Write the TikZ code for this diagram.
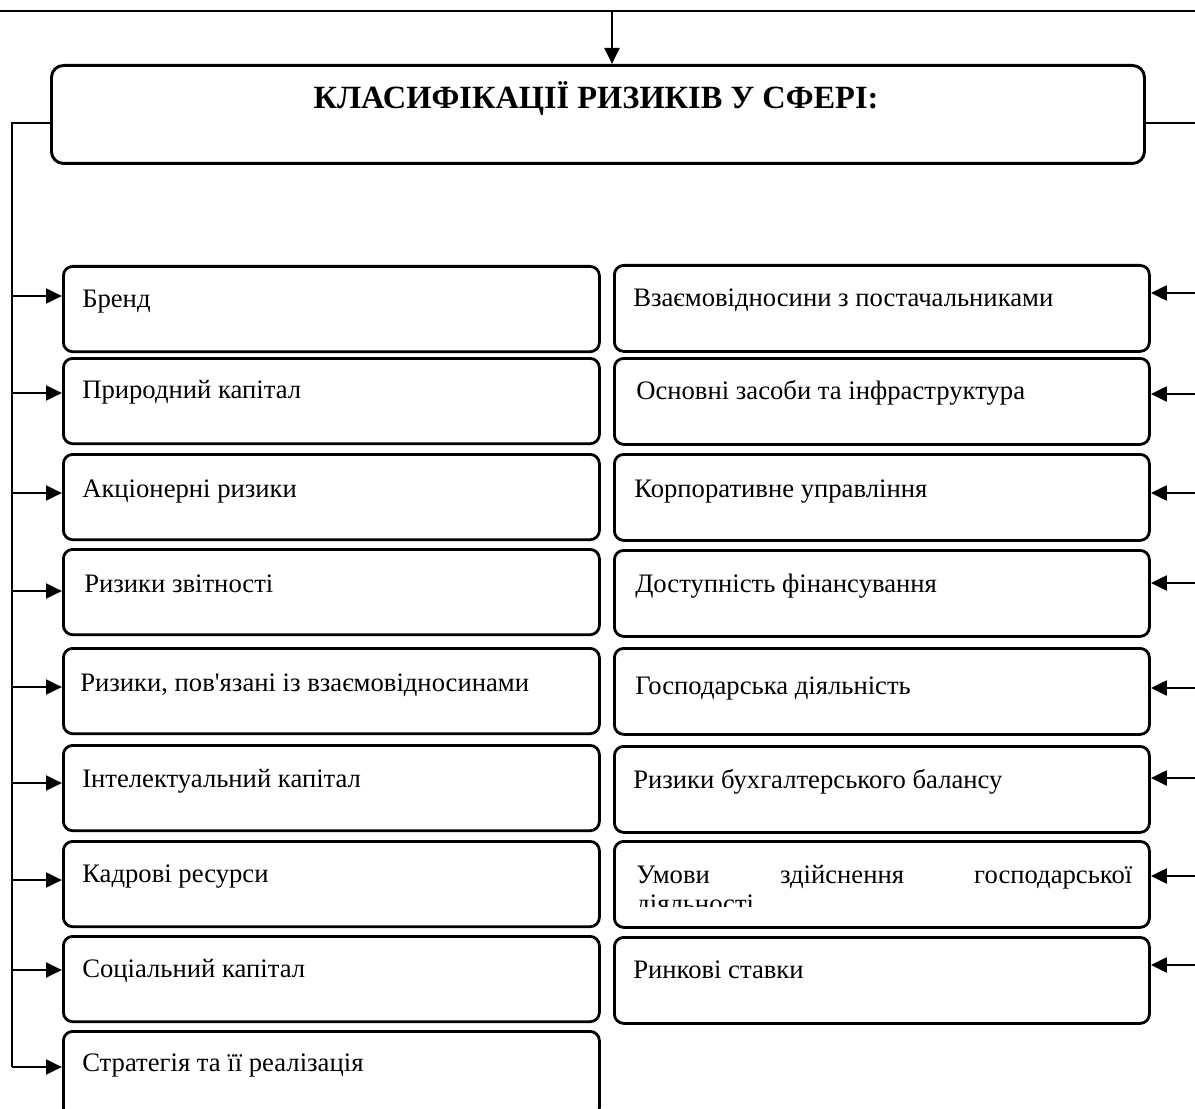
\documentclass[tikz,border=0pt]{standalone}
\usepackage{fontspec}
\setmainfont{Liberation Serif}
\usetikzlibrary{arrows.meta}
\pgfdeclarelayer{nodelayer}
\pgfdeclarelayer{edgelayer}
\pgfsetlayers{edgelayer,nodelayer,main}
\newcommand{\straightapos}{{\XeTeXglyph\XeTeXglyphindex "quotesingle"\relax}}
\tikzstyle{head box}=[draw=black, line width=2.2pt, shape=rectangle, rounded corners=9pt, anchor=north west, inner sep=0pt, minimum width=819.75pt, minimum height=73.5pt]
\tikzstyle{left box}=[draw=black, line width=2.1pt, shape=rectangle, rounded corners=7pt, anchor=north west, inner sep=0pt, minimum width=402pt, minimum height=64pt]
\tikzstyle{right box}=[draw=black, line width=2.1pt, shape=rectangle, rounded corners=7pt, anchor=north west, inner sep=0pt, minimum width=401.25pt, minimum height=64.5pt]
\tikzstyle{head text}=[font=\fontsize{24.3}{28}\selectfont\bfseries, anchor=base, inner sep=0pt]
\tikzstyle{item text}=[font=\fontsize{20}{23}\selectfont, anchor=base west, inner sep=0pt]
\tikzstyle{line edge}=[draw=black, line width=2.2pt]
\tikzstyle{arrow edge}=[draw=black, line width=2.2pt, -{Triangle[length=12pt, width=11pt]}]

\begin{document}
\begin{tikzpicture}[x=0.75pt, y=-0.75pt]
	\useasboundingbox (0, 0) rectangle (1195, 1109);
	\begin{pgfonlayer}{nodelayer}
		\node [style=head box] (0) at (50, 64) {};
		\node [style=head text] (1) at (596, 109) {КЛАСИФІКАЦІЇ РИЗИКІВ У СФЕРІ:};
		% left column
		\node [style=left box] (2) at (62, 265) {};
		\node [style=left box] (3) at (62, 357) {};
		\node [style=left box] (4) at (62, 453) {};
		\node [style=left box] (5) at (62, 548) {};
		\node [style=left box] (6) at (62, 647) {};
		\node [style=left box] (7) at (62, 744) {};
		\node [style=left box] (8) at (62, 840) {};
		\node [style=left box] (9) at (62, 935) {};
		\node [style=left box] (10) at (62, 1030) {};
		\node [style=item text] (11) at (82, 307) {Бренд};
		\node [style=item text] (12) at (82, 398) {Природний капітал};
		\node [style=item text] (13) at (82, 497) {Акціонерні ризики};
		\node [style=item text] (14) at (84, 592) {Ризики звітності};
		\node [style=item text] (15) at (80, 691) {Ризики, пов\straightapos язані із взаємовідносинами};
		\node [style=item text] (16) at (82, 787) {Інтелектуальний капітал};
		\node [style=item text] (17) at (82, 882) {Кадрові ресурси};
		\node [style=item text] (18) at (82, 977) {Соціальний капітал};
		\node [style=item text] (19) at (82, 1071) {Стратегія та її реалізація};
		% right column
		\node [style=right box] (20) at (613, 264) {};
		\node [style=right box] (21) at (613, 357) {};
		\node [style=right box] (22) at (613, 453) {};
		\node [style=right box] (23) at (613, 549) {};
		\node [style=right box] (24) at (613, 647) {};
		\node [style=right box] (25) at (613, 745) {};
		\node [style=right box] (26) at (613, 840) {};
		\node [style=right box] (27) at (613, 936) {};
		\node [style=item text] (28) at (633, 306) {Взаємовідносини з постачальниками};
		\node [style=item text] (29) at (636, 399) {Основні засоби та інфраструктура};
		\node [style=item text] (30) at (634, 497) {Корпоративне управління};
		\node [style=item text] (31) at (635, 592) {Доступність фінансування};
		\node [style=item text] (32) at (635, 694) {Господарська діяльність};
		\node [style=item text] (33) at (633, 788) {Ризики бухгалтерського балансу};
		\node [style=item text, text width=372pt, align=left] (34) at (636, 883) {Умови\hfill здійснення\hfill господарської};
		\begin{scope}
			\clip (613, 840) rectangle (1148, 906);
			\node [style=item text] (35) at (636, 912) {діяльності};
		\end{scope}
		\node [style=item text] (36) at (633, 978) {Ринкові ставки};
	\end{pgfonlayer}
	\begin{pgfonlayer}{edgelayer}
		\coordinate (37) at (0, 11);
		\coordinate (38) at (1195, 11);
		\coordinate (39) at (612, 11);
		\coordinate (40) at (12, 123);
		\coordinate (41) at (1197, 123);
		\coordinate (42) at (12, 296);
		\coordinate (43) at (12, 393);
		\coordinate (44) at (12, 493);
		\coordinate (45) at (12, 591);
		\coordinate (46) at (12, 687);
		\coordinate (47) at (12, 783);
		\coordinate (48) at (12, 880);
		\coordinate (49) at (12, 970);
		\coordinate (50) at (12, 1067);
		\coordinate (51) at (1197, 293);
		\coordinate (52) at (1197, 394);
		\coordinate (53) at (1197, 493);
		\coordinate (54) at (1197, 583);
		\coordinate (55) at (1197, 688);
		\coordinate (56) at (1197, 778);
		\coordinate (57) at (1197, 876);
		\coordinate (58) at (1197, 965);
		\draw [style=line edge] (37) to (38);
		\draw [style=arrow edge] (39) to (39 |- 0.north);
		\draw [style=line edge] (40 -| 0.west) to (40) to (50);
		\draw [style=line edge] (41 -| 0.east) to (41) to (58);
		\draw [style=arrow edge] (42) to (42 -| 2.west);
		\draw [style=arrow edge] (43) to (43 -| 3.west);
		\draw [style=arrow edge] (44) to (44 -| 4.west);
		\draw [style=arrow edge] (45) to (45 -| 5.west);
		\draw [style=arrow edge] (46) to (46 -| 6.west);
		\draw [style=arrow edge] (47) to (47 -| 7.west);
		\draw [style=arrow edge] (48) to (48 -| 8.west);
		\draw [style=arrow edge] (49) to (49 -| 9.west);
		\draw [style=arrow edge] (50) to (50 -| 10.west);
		\draw [style=arrow edge] (51) to (51 -| 20.east);
		\draw [style=arrow edge] (52) to (52 -| 21.east);
		\draw [style=arrow edge] (53) to (53 -| 22.east);
		\draw [style=arrow edge] (54) to (54 -| 23.east);
		\draw [style=arrow edge] (55) to (55 -| 24.east);
		\draw [style=arrow edge] (56) to (56 -| 25.east);
		\draw [style=arrow edge] (57) to (57 -| 26.east);
		\draw [style=arrow edge] (58) to (58 -| 27.east);
	\end{pgfonlayer}
\end{tikzpicture}
\end{document}
